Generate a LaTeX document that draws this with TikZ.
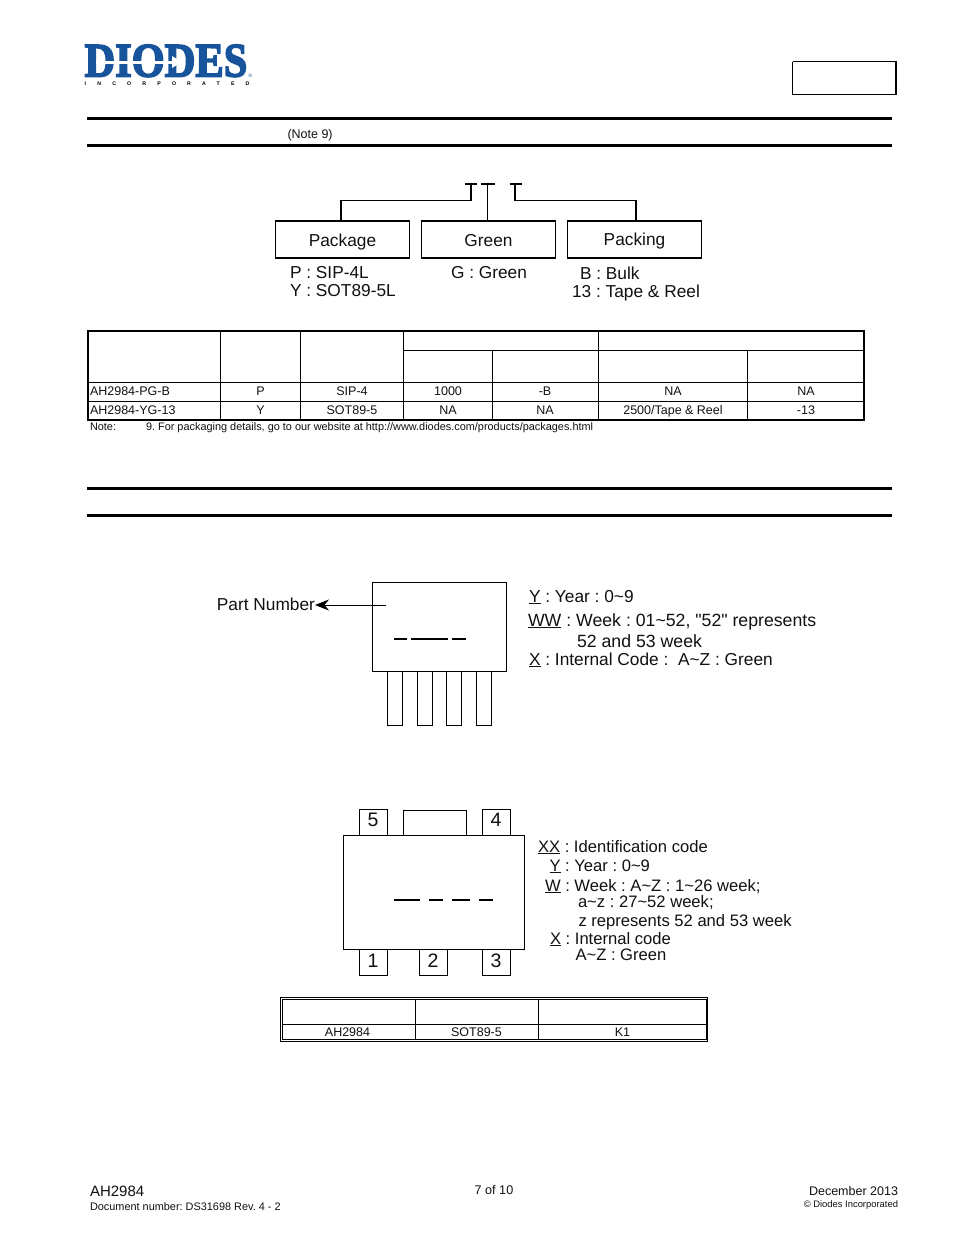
\documentclass[tikz,border=0pt]{standalone}
\usepackage{fontspec}
\setmainfont[Ligatures=TeXOff]{Liberation Sans}
\newfontfamily\logofont[BoldFont={Liberation Serif Bold},BoldFeatures={FakeBold=3.5}]{Liberation Serif}
\newfontfamily\incfont[LetterSpace=215]{Liberation Sans Bold}
\usetikzlibrary{arrows.meta}
\definecolor{logoblue}{HTML}{17549B}
\definecolor{ink}{HTML}{111111}
\newcommand{\fs}[1]{\fontsize{#1}{#1}\selectfont}
\tikzset{
  x=1pt,y=-1pt,
  txt/.style={inner sep=0pt,outer sep=0pt,text=ink,anchor=base west},
  bigtxt/.style={txt,font=\fs{17.3}},
  widetxt/.style={txt,font=\fs{17.7}},
  sottxt/.style={txt,font=\fs{16.6}},
  smalltxt/.style={txt,font=\fs{12.5},anchor=base},
  tinytxt/.style={txt,font=\fs{10.9}},
  pinlabel/.style={txt,font=\fs{19.5},anchor=center},
  outline/.style={draw=black,line width=1pt,inner sep=0pt,outer sep=0pt},
  treebox/.style={outline,minimum width=134pt,minimum height=37pt,line width=1.2pt,anchor=north west,font=\fs{17.3},text=ink,text height=13pt,text depth=0pt},
  rulebar/.style={line width=3pt,black},
  gridline/.style={line width=1pt,black},
  heavyline/.style={line width=2pt,black},
  codebar/.style={line width=2pt,black},
  leadline/.style={line width=1pt,black}
}
\begin{document}
\frenchspacing
\begin{tikzpicture}
\useasboundingbox[fill=white] (0,0) rectangle (954,1235);
% logo
\node[inner sep=0pt,outer sep=0pt,text=logoblue,anchor=base west,xscale=0.885] (logo) at (84.5,76.5) {\fs{48}\logofont\bfseries DIODES};
\fill[white] (96,60.6) rectangle (172,63.6);
\fill[white] (172,56) -- (182,62) -- (172,68) -- cycle;
\node[inner sep=0pt,text=logoblue,anchor=center] (reg) at (250.5,76) {\fs{5}®};
\node[inner sep=0pt,text=black,anchor=base west] (inc) at (84.5,85.5) {\fs{5.2}\incfont INCORPORATED};
% top right box
\draw[line width=1pt] (792.5,61.5) -- (896,61.5) (792.5,94.5) -- (896,94.5) (792.5,61.5) -- (792.5,94.5);
\draw[line width=1.8pt] (896,61) -- (896,95);
% section rules
\draw[rulebar] (87,118.5) -- (892,118.5);
\draw[rulebar] (87,145.5) -- (892,145.5);
\draw[rulebar] (87,488.5) -- (892,488.5);
\draw[rulebar] (87,515.5) -- (892,515.5);
\node[txt,font=\fs{12.5}] (note) at (287.5,138) {(Note 9)};
% ordering tree
\node[treebox] (pk) at (275.5,221) {Package};
\node[treebox] (gr) at (421.5,221) {Green};
\node[treebox] (pa) at (567.5,221) {\raisebox{1pt}{Packing}};
\draw[heavyline] (465,183.5) -- (477,183.5);
\draw[heavyline] (481,183.5) -- (495,183.5);
\draw[heavyline] (509.5,183.5) -- (522,183.5);
\coordinate (t1) at (471,183);
\coordinate (t2) at (487,183);
\coordinate (t3) at (515,183);
\coordinate (j1) at (471,200.5);
\coordinate (j2) at (341,200.5);
\coordinate (j3) at (515,200.5);
\coordinate (j4) at (636,200.5);
\draw[line width=1.4pt] (t1) -- (j1) -- (j2) -- (j2|-pk.north);
\draw[line width=1pt] (t2) -- (t2|-gr.north);
\draw[line width=1.4pt] (t3) -- (j3) -- (j4) -- (j4|-pa.north);
\node[bigtxt] (o1) at (290,278) {P : SIP-4L};
\node[bigtxt] (o2) at (290,296) {Y : SOT89-5L};
\node[bigtxt] (o3) at (451,278) {G : Green};
\node[bigtxt] (o4) at (580,279) {B : Bulk};
\node[bigtxt] (o5) at (572,297) {13 : Tape \& Reel};
% ordering table
\draw[heavyline] (88,331) rectangle (864,420);
\draw[gridline] (403,350.5) -- (864,350.5);
\draw[gridline] (88,382.5) -- (864,382.5);
\draw[gridline] (88,401.5) -- (864,401.5);
\foreach \xx in {220.5,300.5,403.5,598.5} \draw[gridline] (\xx,331) -- (\xx,420);
\foreach \xx in {492.5,747.5} \draw[gridline] (\xx,350.5) -- (\xx,420);
\node[smalltxt,anchor=base west] (a1) at (90,395) {AH2984-PG-B};
\node[smalltxt] (a2) at (260.5,395) {P};
\node[smalltxt] (a3) at (352,395) {SIP-4};
\node[smalltxt] (a4) at (448,395) {1000};
\node[smalltxt] (a5) at (545,395) {-B};
\node[smalltxt] (a6) at (673,395) {NA};
\node[smalltxt] (a7) at (806,395) {NA};
\node[smalltxt,anchor=base west] (b1) at (90,414) {AH2984-YG-13};
\node[smalltxt] (b2) at (260.5,414) {Y};
\node[smalltxt] (b3) at (352,414) {SOT89-5};
\node[smalltxt] (b4) at (448,414) {NA};
\node[smalltxt] (b5) at (545,414) {NA};
\node[smalltxt] (b6) at (673,414) {2500/Tape \& Reel};
\node[smalltxt] (b7) at (806,414) {-13};
\node[tinytxt] (n1) at (90,430) {Note:};
\node[tinytxt] (n2) at (146,430) {9. For packaging details, go to our website at http://www.diodes.com/products/packages.html};
% SIP-4 marking
\node[outline,anchor=north west,minimum width=134pt,minimum height=89pt] (sip) at (372.5,582.5) {};
\foreach \i/\xx in {1/387.5,2/417.5,3/446.5,4/476.5}
  \node[outline,anchor=north west,minimum width=15pt,minimum height=53.5pt] (lead\i) at (\xx,671.5) {};
\draw[line width=1.6pt] (417.5,672) -- (417.5,725) (432.5,672) -- (432.5,725);
\draw[line width=1.6pt] (372.5,671.5) -- (506.5,671.5);
\draw[codebar] (394,638.5) -- (407,638.5);
\draw[codebar] (411,638.5) -- (448,638.5);
\draw[codebar] (452,638.5) -- (465.5,638.5);
\node[bigtxt,anchor=base east] (pn) at (315,610) {Part Number};
\coordinate (pnend) at (386,605);
\draw[leadline,-{Stealth[length=14pt,width=11pt]}] (pnend) -- (pnend-|pn.east);
\node[bigtxt] (m1) at (529,602) {\underline{Y} : Year : 0\textasciitilde 9};
\node[widetxt] (m2) at (528,626) {\underline{WW} : Week : 01\textasciitilde 52, "52" represents};
\node[widetxt] (m3) at (577,647) {52 and 53 week};
\node[bigtxt] (m4) at (529,665) {\underline{X} : Internal Code :~ A\textasciitilde Z : Green};
% SOT89-5 marking
\node[outline,anchor=north west,minimum width=181pt,minimum height=114pt] (sot) at (343.5,835) {};
\node[outline,anchor=south west,minimum width=28pt,minimum height=26pt] (p5) at (359.5,835) {};
\node[outline,anchor=south west,minimum width=63pt,minimum height=25pt] (tab) at (403.5,835) {};
\node[outline,anchor=south west,minimum width=28pt,minimum height=26pt] (p4) at (482.5,835) {};
\node[outline,anchor=north west,minimum width=28pt,minimum height=26pt] (p1) at (359.5,949) {};
\node[outline,anchor=north west,minimum width=28pt,minimum height=26pt] (p2) at (419.5,949) {};
\node[outline,anchor=north west,minimum width=28pt,minimum height=26pt] (p3) at (482.5,949) {};
\node[pinlabel] (l5) at (373,820) {5};
\node[pinlabel] (l4) at (496,820) {4};
\node[pinlabel] (l1) at (373,960.5) {1};
\node[pinlabel] (l2) at (433,960.5) {2};
\node[pinlabel] (l3) at (496,960.5) {3};
\draw[codebar] (394,899.5) -- (420,899.5);
\draw[codebar] (429,899.5) -- (443,899.5);
\draw[codebar] (452,899.5) -- (470,899.5);
\draw[codebar] (479,899.5) -- (493,899.5);
\node[sottxt] (s1) at (538,852) {\underline{XX} : Identification code};
\node[sottxt] (s2) at (549.5,871) {\underline{Y} : Year : 0\textasciitilde 9};
\node[sottxt] (s3) at (545,891) {\underline{W} : Week : A\textasciitilde Z : 1\textasciitilde 26 week;};
\node[sottxt] (s4) at (578,907) {a\textasciitilde z : 27\textasciitilde 52 week;};
\node[sottxt] (s5) at (578.5,926) {z represents 52 and 53 week};
\node[sottxt] (s6) at (550,944) {\underline{X} : Internal code};
\node[sottxt] (s7) at (575.5,960) {A\textasciitilde Z : Green};
% marking table
\draw[gridline] (280.5,997.5) rectangle (707.5,1041.5);
\draw[gridline] (282,999.5) rectangle (706,1039.5);
\draw[gridline] (282,1024.5) -- (706,1024.5);
\draw[gridline] (415.5,999.5) -- (415.5,1039.5);
\draw[gridline] (538.5,999.5) -- (538.5,1039.5);
\node[smalltxt] (c1) at (347.5,1036) {AH2984};
\node[smalltxt] (c2) at (476.5,1036) {SOT89-5};
\node[smalltxt] (c3) at (622.5,1036) {K1};
% footer
\node[txt,font=\fs{15}] (f1) at (90,1196) {AH2984};
\node[txt,font=\fs{10.9}] (f2) at (90,1210) {Document number: DS31698 Rev. 4 - 2};
\node[txt,font=\fs{12.6},anchor=base] (f3) at (494,1194) {7 of 10};
\node[txt,font=\fs{12.5},anchor=base east] (f4) at (898,1195) {December 2013};
\node[txt,font=\fs{9.4},anchor=base east] (f5) at (898,1207) {© Diodes Incorporated};
\end{tikzpicture}
\end{document}
